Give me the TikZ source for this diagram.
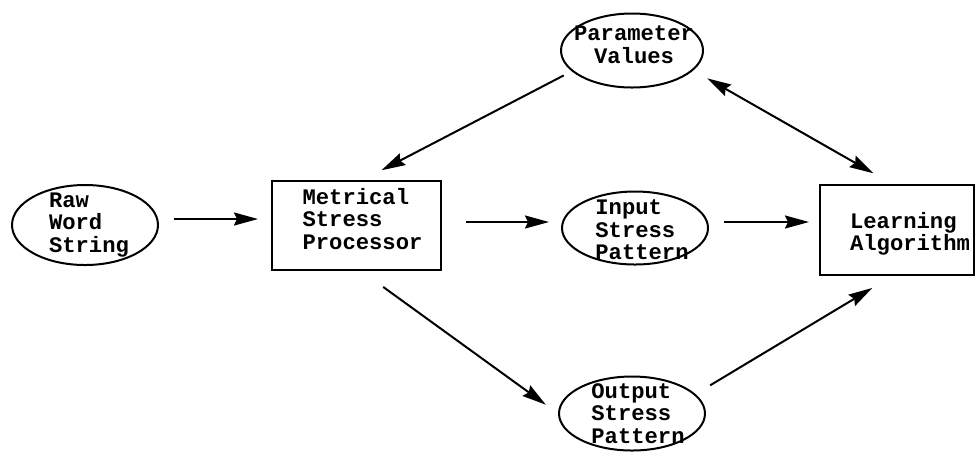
\documentclass[tikz,border=0pt]{standalone}
\usepackage{fontspec}
\setmonofont{Liberation Mono}
\usetikzlibrary{arrows.meta,positioning,shapes.geometric}

\begin{document}
\begin{tikzpicture}[
  x=0.5pt, y=-0.5pt,
  font=\ttfamily\bfseries\fontsize{11.1}{11.25}\selectfont,
  >={Stealth[length=12pt, width=6.5pt, inset=1.5pt]},
  box/.style={draw, line width=1pt, minimum width=84.5pt, minimum height=44.5pt, inner sep=0pt},
  oval/.style={draw, ellipse, line width=1pt, minimum width=73pt, minimum height=37pt, inner sep=0pt},
  words/.style={align=left, inner sep=0pt},
  flow/.style={->, line width=1pt}
]
\useasboundingbox (0,0) rectangle (977,452);
\node[oval, minimum height=40pt, label={[words, xshift=2pt]center:Raw\\Word\\String}] at (85,225) (raw) {};
\node[box, right=56pt of raw, label={[words, xshift=3pt, yshift=3pt]center:Metrical\\Stress\\Processor}] (msp) {};
\node[oval, minimum height=36.5pt, right=59.5pt of msp, yshift=-1.5pt, label={[words, xshift=3.5pt, yshift=-1pt]center:Input\\Stress\\Pattern}] (inp) {};
\node[box, minimum width=77pt, minimum height=45pt, right=55pt of inp, yshift=-1pt, label={[words, xshift=6.5pt, yshift=-2pt]center:Learning\\Algorithm}] (la) {};
\node[oval, minimum width=71pt, above=51pt of inp, xshift=-1.5pt, label={[words, align=center, xshift=1pt, yshift=3pt]center:Parameter\\Values}] (pv) {};
\node[oval, below=55pt of inp, xshift=-1.5pt, label={[words, xshift=3pt]center:Output\\Stress\\Pattern}] (out) {};

\draw[flow, shorten <=7.5pt, shorten >=6.5pt] ([yshift=3pt]raw.east) -- ([yshift=3pt]msp.west);
\draw[flow, shorten <=12pt, shorten >=6pt] ([yshift=1.5pt]msp.east) -- ([yshift=3pt]inp.west);
\draw[flow, shorten <=7.5pt, shorten >=5pt] ([yshift=3pt]inp.east) -- ([yshift=4pt]la.west);
\draw[flow, shorten <=4.5pt, shorten >=10pt] (pv.199) -- (msp.81);
\draw[flow, <->, shorten <=8pt, shorten >=10.8pt] (pv.342) -- (la.96);
\draw[flow, shorten <=14pt, shorten >=7.5pt] (msp.275) -- (out.west);
\draw[flow, shorten <=8.5pt, shorten >=11.6pt] (out.17) -- (la.264);
\end{tikzpicture}
\end{document}
